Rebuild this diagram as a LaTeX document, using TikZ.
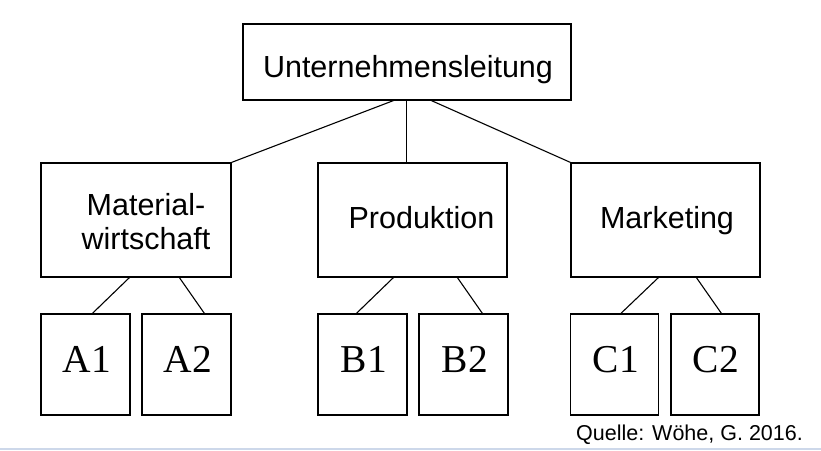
\documentclass[tikz,border=0pt]{standalone}
\usepackage{fontspec}
\setmainfont{Liberation Sans}
\newfontfamily\serifLS{Liberation Serif}
\begin{document}
\begin{tikzpicture}[x=1pt,y=-1pt,
  box/.style={draw=black,line width=1.2pt,inner sep=0pt,fill=white},
  conn/.style={draw=black,line width=1.1pt},
  big/.style={font=\fontsize{30.5}{34}\selectfont,inner sep=0pt,anchor=base},
  sub/.style={font=\serifLS\fontsize{39.5}{44}\selectfont,inner sep=0pt,anchor=base},
  src/.style={font=\fontsize{21.5}{24}\selectfont,inner sep=0pt,anchor=base}]
\useasboundingbox (0,0) rectangle (821,450);
\fill[white] (0,0) rectangle (821,450);
% main boxes
\node[box,minimum width=328pt,minimum height=76pt] (top) at (407,62) {};
\node[box,minimum width=190pt,minimum height=114pt] (mat) at (136,220) {};
\node[box,minimum width=189pt,minimum height=114pt] (prod) at (412.5,220) {};
\node[box,minimum width=189pt,minimum height=114pt] (mark) at (665.5,220) {};
% sub boxes
\node[box,minimum width=89pt,minimum height=101pt] (a1) at (85.5,364.5) {};
\node[box,minimum width=89pt,minimum height=101pt] (a2) at (186.5,364.5) {};
\node[box,minimum width=89pt,minimum height=101pt] (b1) at (362.5,364.5) {};
\node[box,minimum width=89pt,minimum height=101pt] (b2) at (463.5,364.5) {};
\node[box,minimum width=88pt,minimum height=101pt] (c1) at (614.5,364.5) {};
\node[box,minimum width=88pt,minimum height=101pt] (c2) at (715,364.5) {};
% texts
\node[big] (ttop) at (408,77) {Unternehmensleitung};
\node[big] (tmat1) at (146,215) {Material-};
\node[big] (tmat2) at (146,249) {wirtschaft};
\node[big] (tprod) at (421.5,228) {Produktion};
\node[big] (tmark) at (667,228) {Marketing};
\node[sub] (ta1) at (87,372) {A1};
\node[sub] (ta2) at (188,372) {A2};
\node[sub] (tb1) at (364,372) {B1};
\node[sub] (tb2) at (465,372) {B2};
\node[sub] (tc1) at (616,372) {C1};
\node[sub] (tc2) at (716,372) {C2};
\node[src,anchor=base east] (src) at (803,440) {Quelle: Wöhe, G. 2016.};
% connectors
\draw[conn] ([xshift=151pt]top.south west) -- (mat.north east);
\draw[conn] ([xshift=164pt]top.south west) -- ([xshift=89pt]prod.north west);
\draw[conn] ([xshift=189pt]top.south west) -- (mark.north west);
\draw[conn] ([xshift=89pt]mat.south west) -- ([xshift=52pt]a1.north west);
\draw[conn] ([xshift=139pt]mat.south west) -- ([xshift=63pt]a2.north west);
\draw[conn] ([xshift=76pt]prod.south west) -- ([xshift=39pt]b1.north west);
\draw[conn] ([xshift=140pt]prod.south west) -- ([xshift=64pt]b2.north west);
\draw[conn] ([xshift=88pt]mark.south west) -- ([xshift=51pt]c1.north west);
\draw[conn] ([xshift=126pt]mark.south west) -- ([xshift=51pt]c2.north west);
% bottom rule
\draw[line width=1.5pt,draw={rgb,255:red,205;green,216;blue,234}] (0,449) -- (821,449);
\end{tikzpicture}
\end{document}
